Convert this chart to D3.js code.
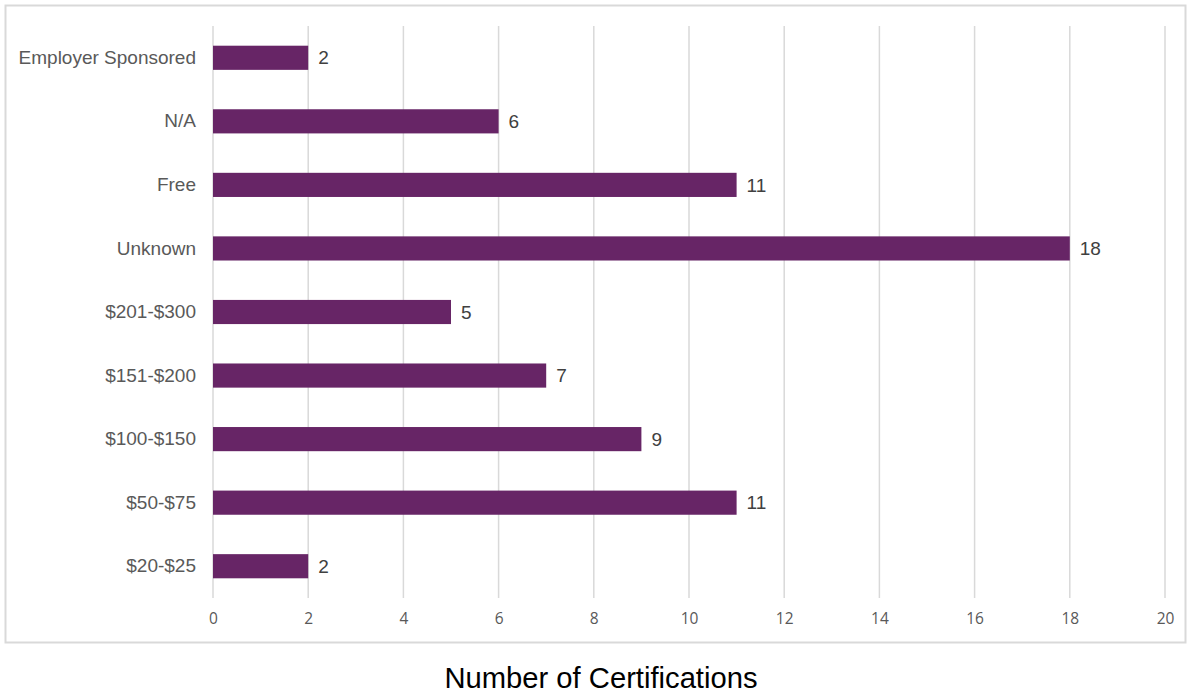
<!DOCTYPE html>
<html><head><meta charset="utf-8">
<script src="https://cdn.jsdelivr.net/npm/d3@7"></script>
<style>body{margin:0;background:#fff;} svg{display:block;}</style>
</head><body>
<script>
const categories = ["Employer Sponsored","N/A","Free","Unknown","$201-$300","$151-$200","$100-$150","$50-$75","$20-$25"];
const values = [2,6,11,18,5,7,9,11,2];
const xTicks = [0,2,4,6,8,10,12,14,16,18,20];
const axisTitle = "Number of Certifications";

const W = 1188, H = 696;
const svg = d3.select("body").append("svg").attr("width", W).attr("height", H);

svg.append("rect").attr("x", 5.5).attr("y", 5.5).attr("width", 1180).attr("height", 637)
  .attr("fill", "#fff").attr("stroke", "#d9d9d9").attr("stroke-width", 2);

const m = {left: 213, right: 1165, top: 26, bottom: 598};
const x = d3.scaleLinear().domain([0, 20]).range([m.left, m.right]);
const y = d3.scaleBand().domain(categories).range([m.top, m.bottom]).paddingInner(0.62).paddingOuter(0.31);

const grid = svg.append("g");
grid.selectAll("line").data(xTicks).join("line")
  .attr("x1", d => x(d)).attr("x2", d => x(d))
  .attr("y1", m.top).attr("y2", m.bottom)
  .attr("stroke", "#d9d9d9").attr("stroke-width", 1.5);

const xAxis = svg.append("g").attr("transform", `translate(0,${m.bottom})`)
  .call(d3.axisBottom(x).tickValues(xTicks).tickSize(0).tickPadding(15));
xAxis.select(".domain").remove();
xAxis.selectAll("text").attr("font-family", "'Open Sans', 'Liberation Sans', sans-serif")
  .attr("font-size", 15.5).attr("fill", "#595959");

const yAxis = svg.append("g").attr("transform", `translate(${m.left},0)`)
  .call(d3.axisLeft(y).tickSize(0).tickPadding(17));
yAxis.select(".domain").remove();
yAxis.selectAll("text").attr("font-family", "'Liberation Sans', Arial, sans-serif")
  .attr("font-size", 19).attr("fill", "#595959");

svg.append("g").selectAll("rect").data(values).join("rect")
  .attr("x", x(0)).attr("y", (d, i) => y(categories[i]))
  .attr("width", d => x(d) - x(0)).attr("height", y.bandwidth())
  .attr("fill", "#672566");

svg.append("g").selectAll("text").data(values).join("text")
  .attr("x", d => x(d) + 10).attr("y", (d, i) => y(categories[i]) + y.bandwidth() / 2)
  .attr("dy", "0.35em")
  .attr("font-family", "'Liberation Sans', Arial, sans-serif").attr("font-size", 19).attr("fill", "#404040")
  .text(d => d);

svg.append("text").attr("x", 601).attr("y", 688).attr("text-anchor", "middle")
  .attr("font-family", "'Liberation Sans', Arial, sans-serif").attr("font-size", 29.2).attr("fill", "#000")
  .text(axisTitle);
</script>
</body></html>
